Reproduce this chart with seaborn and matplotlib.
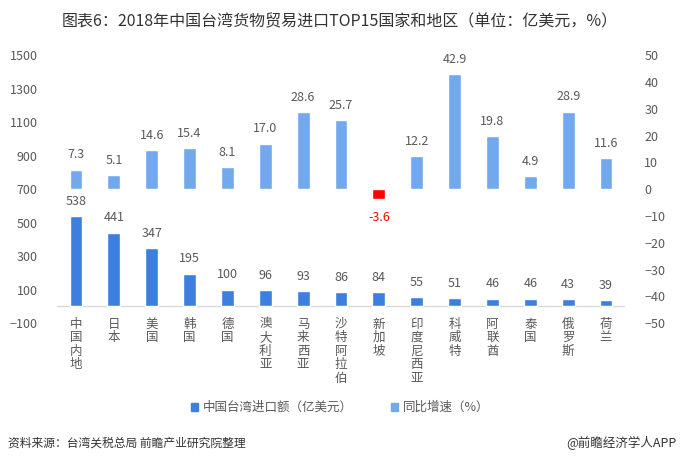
import matplotlib
matplotlib.use("Agg")
import matplotlib.pyplot as plt
import seaborn as sns
from matplotlib.patches import Patch

# data
regions = ['中国内地', '日本', '美国', '韩国', '德国', '澳大利亚', '马来西亚', '沙特阿拉伯',
           '新加坡', '印度尼西亚', '科威特', '阿联酋', '泰国', '俄罗斯', '荷兰']
imports = [538, 441, 347, 195, 100, 96, 93, 86, 84, 55, 51, 46, 46, 43, 39]
growth = [7.3, 5.1, 14.6, 15.4, 8.1, 17.0, 28.6, 25.7, -3.6, 12.2, 42.9, 19.8, 4.9, 28.9, 11.6]

dark_blue = '#3D7FDE'
light_blue = '#72A9EE'
red = '#FF0000'
grey_txt = '#595959'

sns.set_style('white')
plt.rcParams['font.family'] = ['Noto Sans CJK SC', 'DejaVu Sans']

fig = plt.figure(figsize=(6.8, 4.63), dpi=100)
ax = fig.add_axes([0.084, 0.302, 0.835, 0.579])
ax2 = ax.twinx()

# import value bars (left axis)
sns.barplot(x=regions, y=imports, ax=ax, color=dark_blue, width=0.34, saturation=1)

# yoy growth bars (right axis), negative one in red
growth_colors = [red if g < 0 else light_blue for g in growth]
sns.barplot(x=regions, y=growth, hue=regions, palette=growth_colors, ax=ax2,
            width=0.34, saturation=1, legend=False)

ax.set_ylim(-100, 1500)
ax.set_yticks(range(-100, 1501, 200))
ax2.set_ylim(-50, 50)
ax2.set_yticks(range(-50, 51, 10))
ax.set_xlim(-0.5, len(regions) - 0.5)

for a in (ax, ax2):
    for s in a.spines.values():
        s.set_visible(False)
    a.tick_params(length=0, labelsize=9, colors=grey_txt)
    a.set_xlabel('')
    a.set_ylabel('')
ax.tick_params(axis='y', pad=14)
ax2.tick_params(axis='y', pad=14)

ax.axhline(0, color='#D9D9D9', lw=1, zorder=0)

ax.set_xticks(range(len(regions)))
ax.set_xticklabels(['\n'.join(r) for r in regions], fontsize=9, color=grey_txt,
                   linespacing=1.05, va='top')
ax.tick_params(axis='x', pad=-4)

# value labels
for i, v in enumerate(imports):
    ax.annotate(str(v), (i, v), xytext=(0, 6), textcoords='offset points',
                ha='center', va='bottom', fontsize=9, color=grey_txt)
for i, g in enumerate(growth):
    if g < 0:
        ax2.annotate(f'{g:.1f}', (i, g), xytext=(0, -9), textcoords='offset points',
                     ha='center', va='top', fontsize=9, color=red)
    else:
        ax2.annotate(f'{g:.1f}', (i, g), xytext=(0, 6), textcoords='offset points',
                     ha='center', va='bottom', fontsize=9, color=grey_txt)

fig.text(0.5, 0.952, '图表6：2018年中国台湾货物贸易进口TOP15国家和地区（单位：亿美元，%）',
         ha='center', va='center', fontsize=11.5, color='#333333')

handles = [Patch(color=dark_blue), Patch(color=light_blue)]
fig.legend(handles, ['中国台湾进口额（亿美元）', '同比增速（%）'], loc='center',
           bbox_to_anchor=(0.5, 0.12), ncol=2, frameon=False, fontsize=9,
           handlelength=0.6, handleheight=0.6, handletextpad=0.4, columnspacing=3,
           labelcolor=grey_txt)

fig.text(0.012, 0.043, '资料来源：台湾关税总局 前瞻产业研究院整理', ha='left', va='center',
         fontsize=8.5, color='#333333', style='italic')
fig.text(0.995, 0.043, '@前瞻经济学人APP', ha='right', va='center',
         fontsize=9, color='#333333')

fig.savefig('out.png', dpi=100)
